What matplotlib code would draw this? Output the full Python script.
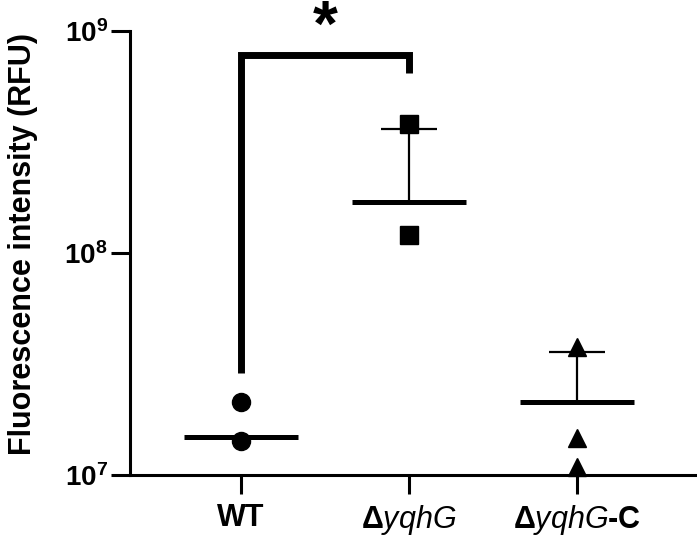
#!/usr/bin/env python3

import numpy as np
import matplotlib
matplotlib.use("Agg")
import matplotlib.pyplot as plt

plt.rcParams['font.family'] = ['Liberation Sans', 'DejaVu Sans']
plt.rcParams['mathtext.fontset'] = 'custom'
plt.rcParams['mathtext.rm'] = 'Liberation Sans'
plt.rcParams['mathtext.it'] = 'Liberation Sans:italic'
plt.rcParams['mathtext.bf'] = 'Liberation Sans:bold'

# values (RFU)
group_labels = ['WT', 'Δ$\\mathit{yqhG}$', 'Δ$\\mathit{yqhG}$-C']
wt_points = [2.14e7, 1.42e7]
del_points = [3.81e8, 1.21e8]
comp_points = [3.78e7, 1.47e7, 1.09e7]
group_means = [1.48e7, 1.70e8, 2.14e7]
group_sd = [0.0, 1.92e8, 1.44e7]
markers = ['o', 's', '^']

bracket_low = [2.88e7, 6.47e8]
bracket_top = 7.8e8
star_y = 8.6e8

y_ticks = [1e7, 1e8, 1e9]
y_ticklabels = ['$\\mathbf{10^{7}}$', '$\\mathbf{10^{8}}$', '$\\mathbf{10^{9}}$']

fig = plt.figure(figsize=(6.97, 5.42), dpi=100)
ax = fig.add_axes([0.1865, 0.1236, 0.8105, 0.8192])

half_w = 0.34
cap_w = 0.167
for i, pts in enumerate([wt_points, del_points, comp_points]):
    ax.plot([i] * len(pts), pts, linestyle='none', marker=markers[i],
            markersize=13, color='black', clip_on=False, zorder=4)
    ax.plot([i - half_w, i + half_w], [group_means[i]] * 2, color='black',
            linewidth=3.6, solid_capstyle='butt', zorder=3)
    if group_sd[i] > 0:
        top = group_means[i] + group_sd[i]
        ax.plot([i, i], [group_means[i], top], color='black', linewidth=1.6, zorder=3)
        ax.plot([i - cap_w, i + cap_w], [top, top], color='black', linewidth=1.6,
                solid_capstyle='butt', zorder=3)

# significance bracket WT vs deletion
ax.plot([0, 0, 1, 1], [bracket_low[0], bracket_top, bracket_top, bracket_low[1]],
        color='black', linewidth=5, solid_joinstyle='miter', solid_capstyle='butt',
        clip_on=False, zorder=5)
ax.text(0.5, star_y, '*', ha='center', va='baseline', fontsize=46,
        fontweight='bold', clip_on=False)

ax.set_yscale('log')
ax.set_ylim(1e7, 1e9)
ax.set_xlim(-0.66, 2.70)
ax.set_yticks(y_ticks)
ax.set_yticklabels(y_ticklabels)
ax.minorticks_off()
ax.set_xticks(range(len(group_labels)))
ax.set_xticklabels(group_labels, fontweight='bold')

ax.tick_params(axis='y', length=14, width=2.2, labelsize=20, pad=2)
ax.tick_params(axis='x', length=14, width=2.2, labelsize=22, pad=6)
ax.set_ylabel('Fluorescence intensity (RFU)', fontsize=22, fontweight='bold')
ax.yaxis.set_label_coords(-0.163, 0.52)

ax.spines['top'].set_visible(False)
ax.spines['right'].set_visible(False)
ax.spines['left'].set_linewidth(2.2)
ax.spines['bottom'].set_linewidth(2.2)

fig.savefig('out.png', dpi=100, facecolor='white')
